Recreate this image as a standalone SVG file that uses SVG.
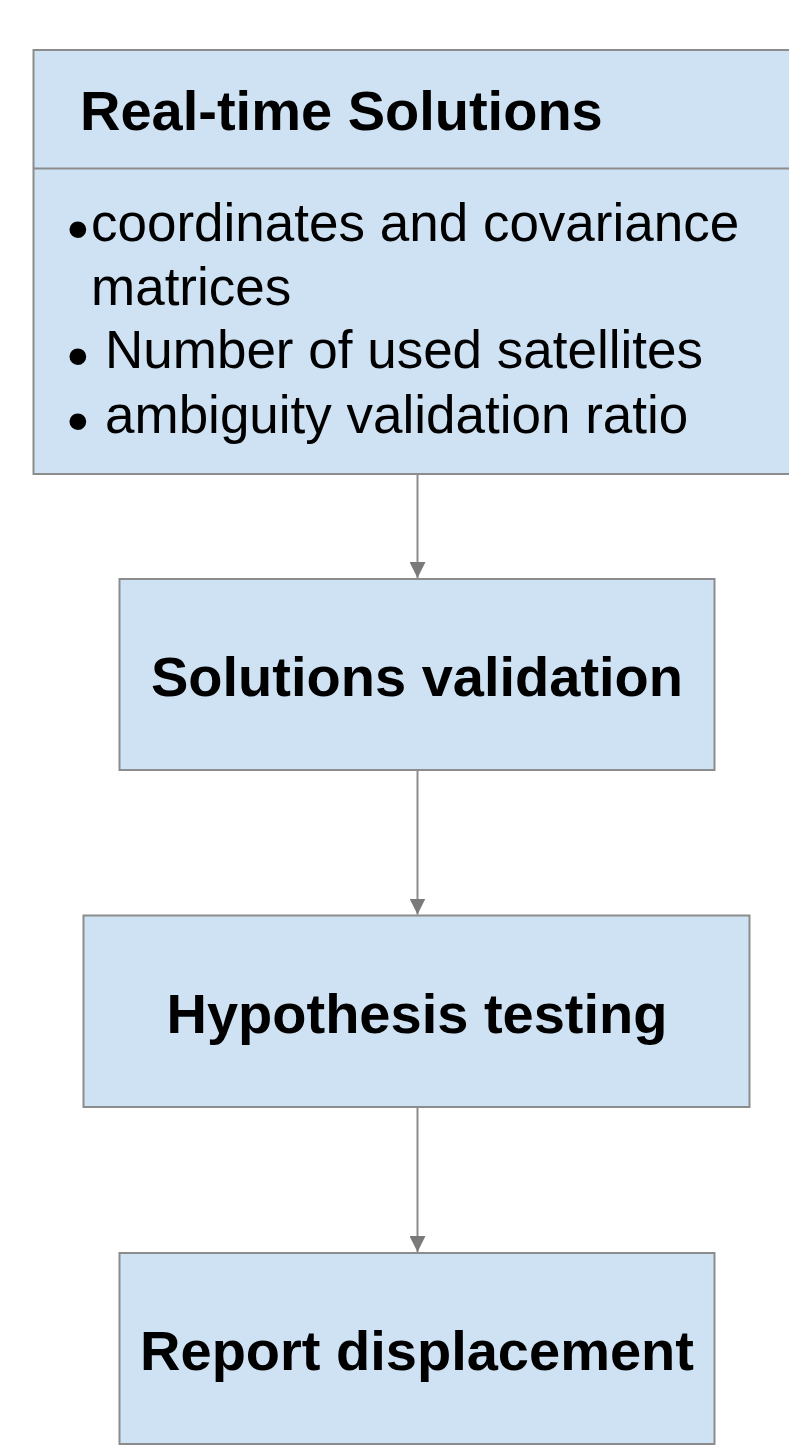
<svg xmlns="http://www.w3.org/2000/svg" width="789" height="1449" viewBox="0 0 789 1449">
  <style>
    .box { fill: #cfe2f3; stroke: #8c8c8c; stroke-width: 2; }
    .rule { stroke: #8c8c8c; stroke-width: 2; }
    .head { font-family: "Liberation Sans", Arial, sans-serif; font-weight: bold; font-size: 56px; fill: #000; }
    .body { font-family: "Liberation Sans", Arial, sans-serif; font-size: 53px; fill: #000; }
    .dot { font-family: "Liberation Sans", Arial, sans-serif; font-size: 62px; fill: #000; }
    .link { stroke: #8c8c8c; stroke-width: 2; fill: none; marker-end: url(#tip); }
  </style>
  <defs>
    <marker id="tip" viewBox="0 0 16 16" refX="16" refY="8" markerWidth="16" markerHeight="16" markerUnits="userSpaceOnUse" orient="auto">
      <path d="M0,0 L16,8 L0,16 Z" fill="#7a7a7a"/>
    </marker>
  </defs>

  <!-- Source node: heading strip plus bulleted content -->
  <g id="realtime-solutions">
    <rect class="box" x="33.5" y="50" width="800" height="424"/>
    <line class="rule" x1="33.5" y1="168.5" x2="800" y2="168.5"/>
    <text class="head" x="80" y="130">Real-time Solutions</text>
    <text class="dot" x="67" y="250">•</text>
    <text class="body" x="91" y="241">coordinates and covariance</text>
    <text class="body" x="91" y="305">matrices</text>
    <text class="dot" x="67" y="377">•</text>
    <text class="body" x="105" y="368">Number of used satellites</text>
    <text class="dot" x="67" y="442">•</text>
    <text class="body" x="105" y="433">ambiguity validation ratio</text>
  </g>

  <g id="solutions-validation">
    <rect class="box" x="119.5" y="579" width="595" height="191"/>
    <text class="head" x="417" y="696" text-anchor="middle">Solutions validation</text>
  </g>

  <g id="hypothesis-testing">
    <rect class="box" x="83.5" y="915.5" width="666" height="191.5"/>
    <text class="head" x="417" y="1033" text-anchor="middle">Hypothesis testing</text>
  </g>

  <g id="report-displacement">
    <rect class="box" x="119.5" y="1253" width="595" height="191"/>
    <text class="head" x="417" y="1370" text-anchor="middle">Report displacement</text>
  </g>

  <!-- Flow connectors -->
  <g id="connectors">
    <line class="link" x1="417.5" y1="475" x2="417.5" y2="578"/>
    <line class="link" x1="417.5" y1="771" x2="417.5" y2="914.5"/>
    <line class="link" x1="417.5" y1="1108" x2="417.5" y2="1252"/>
  </g>
</svg>
